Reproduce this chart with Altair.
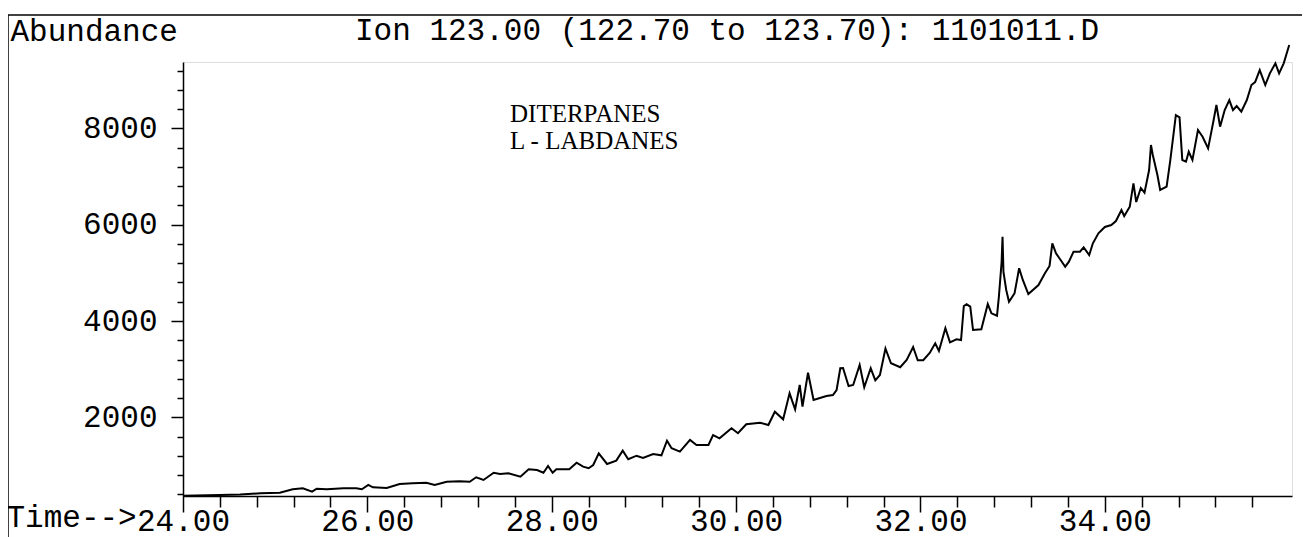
import altair as alt
import pandas as pd

# ---- data (time in minutes, abundance) ----
time_min = [
    24.00, 24.40, 24.62, 24.84, 25.05, 25.19, 25.30, 25.40, 25.45, 25.56,
    25.74, 25.88, 25.94, 26.01, 26.06, 26.21, 26.35, 26.49, 26.64, 26.73,
    26.86, 27.00, 27.11, 27.18, 27.26, 27.37, 27.44, 27.53, 27.66, 27.75,
    27.84, 27.91, 27.96, 28.01, 28.05, 28.19, 28.27, 28.34, 28.40, 28.45,
    28.51, 28.60, 28.70, 28.77, 28.83, 28.92, 28.99, 29.10, 29.19, 29.25,
    29.30, 29.39, 29.50, 29.57, 29.70, 29.75, 29.82, 29.95, 30.02, 30.11,
    30.26, 30.35, 30.42, 30.51, 30.58, 30.64, 30.69, 30.72, 30.78, 30.84,
    30.98, 31.05, 31.09, 31.13, 31.16, 31.22, 31.27, 31.34, 31.39, 31.46,
    31.51, 31.56, 31.62, 31.68, 31.78, 31.85, 31.92, 31.97, 32.03, 32.10,
    32.16, 32.20, 32.27, 32.32, 32.39, 32.44, 32.47, 32.50, 32.54, 32.57,
    32.66, 32.73, 32.77, 32.83, 32.85, 32.88, 32.89, 32.90, 32.93, 32.96,
    33.02, 33.07, 33.11, 33.17, 33.28, 33.35, 33.40, 33.43, 33.47, 33.52,
    33.57, 33.61, 33.66, 33.73, 33.77, 33.83, 33.87, 33.93, 34.00, 34.07,
    34.12, 34.18, 34.21, 34.27, 34.31, 34.34, 34.39, 34.43, 34.48, 34.50,
    34.52, 34.57, 34.60, 34.67, 34.71, 34.75, 34.77, 34.81, 34.84, 34.88,
    34.91, 34.95, 35.01, 35.06, 35.12, 35.18, 35.21, 35.25, 35.30, 35.35,
    35.39, 35.43, 35.48, 35.54, 35.59, 35.63, 35.68, 35.74, 35.79, 35.85,
    35.89, 35.94, 36.00,
]
abundance = [
    372, 386, 396, 422, 434, 505, 525, 455, 517, 505,
    525, 525, 505, 594, 546, 532, 615, 629, 642, 594,
    662, 671, 662, 754, 698, 849, 822, 837, 766, 920,
    905, 849, 988, 849, 920, 920, 1057, 974, 941, 1009,
    1252, 1030, 1099, 1306, 1128, 1202, 1155, 1238, 1211, 1514,
    1356, 1286, 1529, 1425, 1425, 1632, 1564, 1772, 1668, 1855,
    1888, 1840, 2116, 1958, 2498, 2166, 2671, 2220, 2926, 2359,
    2442, 2463, 2567, 3018, 3024, 2650, 2671, 3086, 2623, 3018,
    2768, 2879, 3429, 3122, 3039, 3190, 3460, 3184, 3184, 3335,
    3537, 3377, 3849, 3558, 3620, 3605, 4312, 4347, 4297, 3813,
    3828, 4353, 4160, 4110, 4497, 5226, 5751, 5018, 4644, 4401,
    4575, 5095, 4852, 4561, 4748, 4991, 5143, 5614, 5406, 5267,
    5128, 5232, 5439, 5439, 5531, 5371, 5614, 5822, 5953, 5994,
    6077, 6306, 6181, 6374, 6860, 6472, 6763, 6665, 7136, 7655,
    7448, 7033, 6722, 6790, 7344, 7967, 8278, 8231, 7344, 7309,
    7516, 7344, 7967, 7828, 7587, 8175, 8486, 8036, 8383, 8590,
    8383, 8466, 8347, 8590, 8902, 8964, 9213, 8902, 9145, 9353,
    9145, 9353, 9733,
]

x_major_ticks = [24, 26, 28, 30, 32, 34]
x_minor_ticks = [24.4, 24.8, 25.2, 25.6, 26.4, 26.8, 27.2, 27.6, 28.4, 28.8,
                 29.2, 29.6, 30.4, 30.8, 31.2, 31.6, 32.4, 32.8, 33.2, 33.6,
                 34.4, 34.8, 35.2, 35.6]
y_major_ticks = [2000, 4000, 6000, 8000]
y_minor_ticks = [400, 800, 1200, 1600, 2400, 2800, 3200, 3600, 4400, 4800,
                 5200, 5600, 6400, 6800, 7200, 7600, 8400, 8800, 9200]

header_text = "Ion 123.00 (122.70 to 123.70): 1101011.D"
y_title = "Abundance"
x_title = "Time-->"
note_lines = ["DITERPANES", "L - LABDANES"]

MONO = "Liberation Mono"
SERIF = "Liberation Serif"
FS = 31

df = pd.DataFrame({"t": time_min, "a": abundance})
one = pd.DataFrame({"k": [0]})

xs = alt.Scale(domain=[24, 36.03], nice=False, zero=False)
ys = alt.Scale(domain=[365, 9380], nice=False, zero=False)

common_axis = dict(
    grid=False, tickColor="black", tickWidth=1.5, domainColor="black",
    domainWidth=1.5, labelColor="black", labelFont=MONO, labelFontSize=FS,
    titleFont=MONO, titleFontSize=FS, titleFontWeight="normal",
    titleColor="black",
)

trace = alt.Chart(df).mark_line(color="black", strokeWidth=2).encode(
    x=alt.X("t:Q", scale=xs, axis=alt.Axis(
        orient="bottom", values=x_major_ticks, format=".2f", tickSize=16,
        labelPadding=-6, labelFlush=False, labelOverlap=False,
        labelAlign="center", labelBaseline="top",
        title=x_title, titleX=-177, titleY=30, titleAlign="left",
        titleBaseline="alphabetic", titleAnchor="start", **common_axis)),
    y=alt.Y("a:Q", scale=ys, axis=alt.Axis(
        orient="left", values=y_major_ticks, format="d", tickSize=12,
        labelPadding=14, labelOverlap=False, labelBaseline="middle",
        title=y_title, titleAngle=0, titleX=-173, titleY=-22,
        titleAlign="left", titleBaseline="alphabetic", titleAnchor="start",
        **common_axis)),
)

minor = alt.Chart(df).mark_line(opacity=0).encode(
    x=alt.X("t:Q", scale=xs, axis=alt.Axis(
        orient="bottom", values=x_minor_ticks, tickSize=11, labels=False,
        domain=False, grid=False, title=None, tickColor="black",
        tickWidth=1.5)),
    y=alt.Y("a:Q", scale=ys, axis=alt.Axis(
        orient="left", values=y_minor_ticks, tickSize=6, labels=False,
        domain=False, grid=False, title=None, tickColor="black",
        tickWidth=1.5)),
)

frame_top = alt.Chart(one).mark_rule(color="black", strokeWidth=1.5).encode(
    x=alt.value(-175), x2=alt.value(1130), y=alt.value(-47))
frame_left = alt.Chart(one).mark_rule(color="black", strokeWidth=1.5).encode(
    x=alt.value(-175), y=alt.value(-47), y2=alt.value(480))

header = alt.Chart(one).mark_text(
    text=header_text, font=MONO, fontSize=FS, align="left",
    baseline="alphabetic", color="black").encode(
    x=alt.value(172), y=alt.value(-22))

note1 = alt.Chart(one).mark_text(
    text=note_lines[0], font=SERIF, fontSize=25, align="left",
    baseline="alphabetic", color="black").encode(
    x=alt.value(327), y=alt.value(60))
note2 = alt.Chart(one).mark_text(
    text=note_lines[1], font=SERIF, fontSize=25, align="left",
    baseline="alphabetic", color="black").encode(
    x=alt.value(327), y=alt.value(87))

chart = alt.layer(
    frame_top, frame_left, minor, trace, header, note1, note2
).resolve_axis(x="independent", y="independent").properties(
    width=1109, height=434,
    autosize=alt.AutoSizeParams(type="none"),
    padding={"left": 175, "top": 54, "right": 10, "bottom": 42},
).configure_view(stroke=None).configure(background="white")

chart.save("out.html", embed_options={"renderer": "svg", "actions": False})
